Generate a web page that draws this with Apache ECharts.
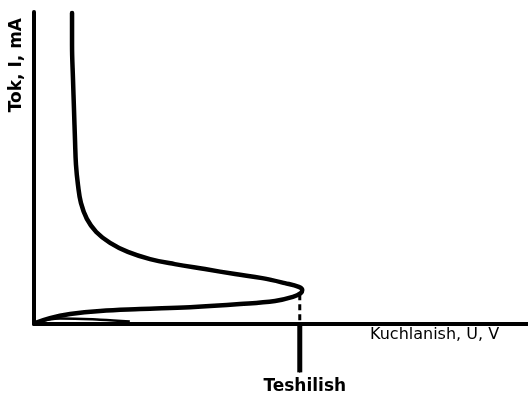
<!DOCTYPE html>
<html>
<head>
<meta charset="utf-8">
<script src="https://cdn.jsdelivr.net/npm/echarts@6/dist/echarts.min.js"></script>
<style>
  html, body { margin: 0; padding: 0; background: #fff; }
  #chart { width: 528px; height: 395px; }
</style>
</head>
<body>
<div id="chart"></div>
<script>
// Current–voltage characteristic with breakdown (relative units, 0–100 on both axes)
// forward branch along the U axis, turning back at the breakdown voltage
const curveU = [0.2, 3.2, 7.3, 13.4, 21.5, 31.6, 41.7, 48.8, 52.4, 54.0, 54.3,
                53.6, 50.8, 46.2, 40.7, 34.6, 28.5, 23.5, 19.0, 15.4, 12.6, 10.7, 9.5, 8.9, 8.5, 8.3, 8.1, 7.9, 7.7, 7.7];
const curveI = [0.3, 1.9, 3.2, 4.2, 4.8, 5.4, 6.4, 7.4, 8.7, 9.9, 10.9,
                11.9, 13.1, 14.7, 16.0, 17.6, 19.2, 20.8, 23.1, 26.0, 29.5, 33.7, 38.8, 44.6, 51.0, 59.0, 68.6, 78.2, 89.4, 99.7];

// short return trace hugging the U axis near the origin
const baseU = [0.4, 5.3, 13.4, 19.4];
const baseI = [0.6, 1.8, 1.4, 0.8];

// breakdown voltage marker
const breakdownU = 53.8;
const breakdownTopI = 9.5;
const breakdownStemI = -15.5;

const axisTitleY = 'Tok, I, mA';
const axisTitleX = 'Kuchlanish, U, V';
const breakdownLabel = 'Teshilish';

const pairs = (xs, ys) => xs.map((x, i) => [x, ys[i]]);
const ink = '#000';

const chart = echarts.init(document.getElementById('chart'), null, { renderer: 'canvas' });

const plainAxis = {
  type: 'value', min: 0, max: 100,
  axisLine: { show: true, onZero: true, lineStyle: { color: ink, width: 4 } },
  axisTick: { show: false }, axisLabel: { show: false }, splitLine: { show: false }
};

chart.setOption({
  animation: false,
  backgroundColor: '#fff',
  grid: { left: 34, right: 0, top: 12, bottom: 71 },
  xAxis: plainAxis,
  yAxis: plainAxis,
  series: [
    {
      type: 'line', data: pairs(curveU, curveI), smooth: 0.4,
      showSymbol: false, clip: false,
      lineStyle: { color: ink, width: 4.5, join: 'round', cap: 'round' }
    },
    {
      type: 'line', data: pairs(baseU, baseI), smooth: 0.4,
      showSymbol: false, clip: false,
      lineStyle: { color: ink, width: 2.5 }
    },
    {
      type: 'line', data: [[breakdownU, breakdownTopI], [breakdownU, 0]],
      showSymbol: false, clip: false,
      lineStyle: { color: ink, width: 3, type: [6, 4] }
    },
    {
      type: 'line', clip: false,
      data: [
        { value: [breakdownU, 0], symbol: 'none' },
        {
          value: [breakdownU, breakdownStemI], symbol: 'circle', symbolSize: 1,
          itemStyle: { color: ink },
          label: {
            show: true, position: 'bottom', distance: 5, offset: [5, 0],
            formatter: breakdownLabel,
            fontFamily: 'DejaVu Sans', fontWeight: 'bold', fontSize: 17, color: ink
          }
        }
      ],
      lineStyle: { color: ink, width: 5 }
    }
  ],
  graphic: [
    {
      type: 'text', left: 8, top: 18,
      rotation: Math.PI / 2,
      style: {
        text: axisTitleY, fill: ink,
        font: 'bold 17px "DejaVu Sans"'
      }
    },
    {
      type: 'text', left: 370, top: 327,
      style: {
        text: axisTitleX, fill: ink,
        font: '16px "DejaVu Sans"'
      }
    }
  ]
});
</script>
</body>
</html>
